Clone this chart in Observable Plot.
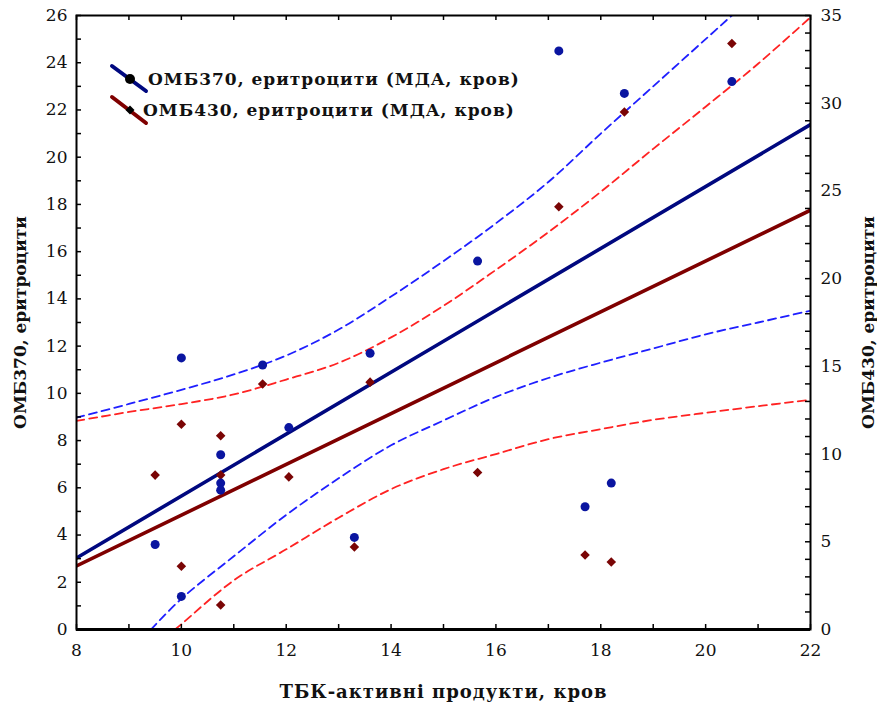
<!DOCTYPE html>
<html><head><meta charset="utf-8">
<script src="https://cdn.jsdelivr.net/npm/d3@7"></script>
<script src="https://cdn.jsdelivr.net/npm/@observablehq/plot@0.6"></script>
<style>
body{margin:0;background:#fff}
#chart svg{display:block}
</style>
</head><body><div id="chart"></div>
<script>
// ---- data ----
const tbk    = [9.5, 10.0, 10.0, 10.75, 10.75, 10.75, 11.55, 12.05, 13.3, 13.6, 15.65, 17.2, 17.7, 18.2, 18.45, 20.5];
const omb370 = [3.6, 11.5, 1.4, 7.4, 6.2, 5.9, 11.2, 8.55, 3.9, 11.7, 15.6, 24.5, 5.2, 6.2, 22.7, 23.2];
const omb430 = [8.8, 11.7, 3.6, 11.05, 8.8, 1.4, 14.0, 8.7, 4.7, 14.1, 8.95, 24.1, 4.25, 3.85, 29.5, 33.4];

const fitX   = [8, 22];
const fit370 = [3.03, 21.38];
const fit430 = [3.62, 23.9];

const up370X = [8, 9, 10, 11, 12, 13, 14, 15, 16, 17, 18, 19, 20, 20.5];
const up370  = [8.97, 9.55, 10.15, 10.8, 11.6, 12.7, 14.1, 15.6, 17.2, 18.95, 21.0, 23.0, 25.0, 26.0];
const lo370X = [9.42, 10, 11, 12, 13, 14, 15, 16, 17, 18, 19, 20, 21, 22];
const lo370  = [0, 1.3, 3.1, 4.85, 6.4, 7.8, 8.85, 9.85, 10.65, 11.3, 11.9, 12.5, 13.0, 13.5];
const up430X = [8, 9, 10, 11, 12, 13, 14, 15, 16, 17, 18, 19, 20, 21, 22];
const up430  = [11.89, 12.4, 12.85, 13.4, 14.25, 15.2, 16.65, 18.45, 20.5, 22.65, 24.95, 27.4, 29.8, 32.25, 34.9];
const lo430X = [9.88, 10, 11, 12, 13, 14, 15, 16, 17, 18, 19, 20, 21, 22];
const lo430  = [0, 0.3, 2.8, 4.57, 6.37, 8.0, 9.14, 10.0, 10.85, 11.42, 11.95, 12.35, 12.73, 13.09];

const xMajor = [8, 10, 12, 14, 16, 18, 20, 22];
const xMinor = [8, 9, 10, 11, 12, 13, 14, 15, 16, 17, 18, 19, 20, 21, 22];
const yMajor = [0, 2, 4, 6, 8, 10, 12, 14, 16, 18, 20, 22, 24, 26];
const yMinor = [0,1,2,3,4,5,6,7,8,9,10,11,12,13,14,15,16,17,18,19,20,21,22,23,24,25,26];
const rMajor = [0, 5, 10, 15, 20, 25, 30, 35];
const rMinor = [0,1,2,3,4,5,6,7,8,9,10,11,12,13,14,15,16,17,18,19,20,21,22,23,24,25,26,27,28,29,30,31,32,33,34,35];

const xTitle = "ТБК-активні продукти, кров";
const yTitle = "ОМБ370, еритроцити";
const rTitle = "ОМБ430, еритроцити";
const legend370 = "ОМБ370, еритроцити (МДА, кров)";
const legend430 = "ОМБ430, еритроцити (МДА, кров)";

// ---- layout ----
const W = 877, H = 706, mL = 76, mR = 67, mT = 15, mB = 77;
const xDom = [8, 22], yDom = [0, 26], rMax = 35;
const k = yDom[1] / rMax;                        // right-axis units -> left-axis units
const pxX = (W - mL - mR) / (xDom[1] - xDom[0]);
const pxY = (H - mT - mB) / (yDom[1] - yDom[0]);
const tl = 5;                                     // inner tick length, px
const font = "DejaVu Serif";

const rows = (xs, ys, f = 1) => xs.map((x, i) => ({x, y: ys[i] * f}));
const pts370 = rows(tbk, omb370);
const pts430 = rows(tbk, omb430, k);

const blueDash = "#1f1fff", redDash = "#ff2222";
const dash = "8,5";
const dashW = 1.8;

const plot = Plot.plot({
  width: W, height: H,
  marginLeft: mL, marginRight: mR, marginTop: mT, marginBottom: mB,
  x: {domain: xDom, axis: null},
  y: {domain: yDom, axis: null},
  style: {fontFamily: font, fontSize: "17px", color: "#111", background: "#fff"},
  marks: [
    // confidence bands
    Plot.line(rows(up370X, up370), {x: "x", y: "y", stroke: blueDash, strokeWidth: dashW, strokeDasharray: dash, curve: "catmull-rom", clip: true}),
    Plot.line(rows(lo370X, lo370), {x: "x", y: "y", stroke: blueDash, strokeWidth: dashW, strokeDasharray: dash, curve: "catmull-rom", clip: true}),
    Plot.line(rows(up430X, up430, k), {x: "x", y: "y", stroke: redDash, strokeWidth: dashW, strokeDasharray: dash, curve: "catmull-rom", clip: true}),
    Plot.line(rows(lo430X, lo430, k), {x: "x", y: "y", stroke: redDash, strokeWidth: dashW, strokeDasharray: dash, curve: "catmull-rom", clip: true}),
    // regression lines
    Plot.line(rows(fitX, fit370), {x: "x", y: "y", stroke: "#00087f", strokeWidth: 3.6, clip: true}),
    Plot.line(rows(fitX, fit430, k), {x: "x", y: "y", stroke: "#7f0000", strokeWidth: 3.6, clip: true}),
    // points
    Plot.dot(pts430, {x: "x", y: "y", symbol: "diamond2", r: 4.3, fill: "#7a0505"}),
    Plot.dot(pts370, {x: "x", y: "y", r: 4.5, fill: "#0a15a0"}),
    // frame
    Plot.frame({stroke: "#000", strokeWidth: 2}),
    Plot.ruleY([0], {stroke: "#000", strokeWidth: 3}),
    // inner ticks
    Plot.ruleX(xMinor, {x: d => d, y1: 0, y2: tl / pxY, stroke: "#000", strokeWidth: 1.5}),
    Plot.ruleX(xMinor, {x: d => d, y1: yDom[1], y2: yDom[1] - tl / pxY, stroke: "#000", strokeWidth: 1.5}),
    Plot.ruleY(yMinor, {y: d => d, x1: xDom[0], x2: xDom[0] + tl / pxX, stroke: "#000", strokeWidth: 1.5}),
    Plot.ruleY(rMinor.map(v => v * k), {y: d => d, x1: xDom[1], x2: xDom[1] - tl / pxX, stroke: "#000", strokeWidth: 1.5}),
    // tick labels
    Plot.axisX(xMajor, {anchor: "bottom", tickSize: 0, tickPadding: 14, label: null, fontSize: 17, fill: "#111"}),
    Plot.axisY(yMajor, {anchor: "left", tickSize: 0, tickPadding: 9, label: null, fontSize: 17, fill: "#111"}),
    Plot.axisY(rMajor.map(v => v * k), {anchor: "right", tickSize: 0, tickPadding: 10, label: null,
      tickFormat: v => String(Math.round(v / k)), fontSize: 17, fill: "#111"}),
    // axis titles
    Plot.text([xTitle], {text: d => d, frameAnchor: "bottom", textAnchor: "middle", dy: 68, fontWeight: "bold", fontSize: 18, fill: "#111"}),
    Plot.text([yTitle], {text: d => d, frameAnchor: "left", textAnchor: "middle", dx: -56, rotate: -90, fontWeight: "bold", fontSize: 17, fill: "#111"}),
    Plot.text([rTitle], {text: d => d, frameAnchor: "right", textAnchor: "middle", dx: 58, rotate: -90, fontWeight: "bold", fontSize: 17, fill: "#111"})
  ]
});

const svg = d3.select(plot);
svg.selectAll("text").filter(function() { return this.textContent === xTitle; }).attr("letter-spacing", 1);

// legend inside the plot, top-left
const lg = svg.append("g").attr("font-family", font).attr("font-weight", "bold").attr("font-size", 17)
  .attr("fill", "#111").attr("text-anchor", "start").attr("letter-spacing", 1);
lg.append("line").attr("x1", 112).attr("y1", 66).attr("x2", 146).attr("y2", 91).attr("stroke", "#00087f").attr("stroke-width", 4).attr("stroke-linecap", "round");
lg.append("circle").attr("cx", 130).attr("cy", 79).attr("r", 5).attr("fill", "#000");
lg.append("text").attr("x", 148).attr("y", 79).attr("dy", "0.35em").text(legend370);
lg.append("line").attr("x1", 112).attr("y1", 97).attr("x2", 146).attr("y2", 123).attr("stroke", "#7f0000").attr("stroke-width", 4).attr("stroke-linecap", "round");
lg.append("path").attr("d", "M130,105.5L134.5,110L130,114.5L125.5,110Z").attr("fill", "#000");
lg.append("text").attr("x", 143).attr("y", 110).attr("dy", "0.35em").text(legend430);

document.getElementById("chart").appendChild(plot);
</script>
</body></html>
